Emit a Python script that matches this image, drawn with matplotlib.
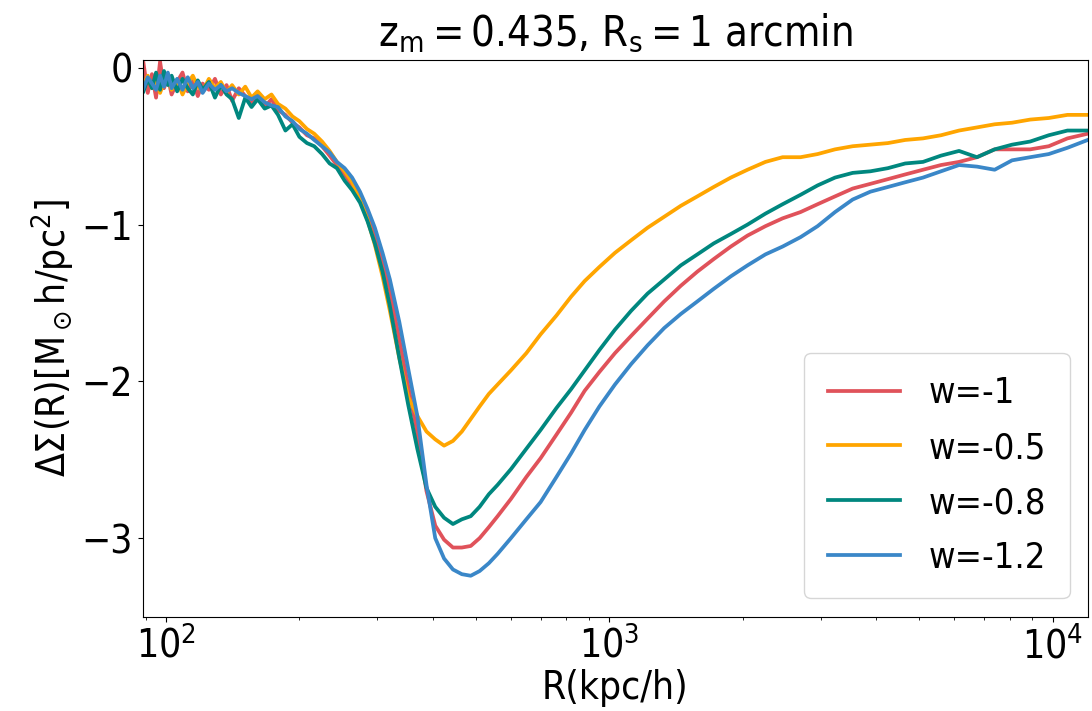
import matplotlib
matplotlib.use("Agg")
import matplotlib.pyplot as plt
from matplotlib import font_manager

# R grid (kpc/h) shared by all four curves
R = [89, 91, 93, 95, 97, 99, 101, 103, 106, 109, 112, 115, 118, 121, 125, 129,
     133, 137, 141, 146, 151, 156, 161, 167, 173, 179, 186, 193, 200, 208, 216,
     225, 234, 243, 253, 263, 274, 285, 296, 308, 320, 336, 352, 369, 387, 405,
     424, 444, 465, 487, 510, 535, 560, 600, 650, 700, 760, 820, 880, 950, 1030,
     1120, 1220, 1330, 1450, 1580, 1720, 1880, 2050, 2250, 2460, 2700, 2950,
     3230, 3540, 3880, 4250, 4650, 5100, 5600, 6150, 6750, 7400, 8100, 8900,
     9800, 10800, 12000]

w_m1 = [0.03, -0.16, -0.04, -0.19, 0.04, -0.13, -0.06, -0.17, -0.09, -0.03, -0.15,
        -0.08, -0.18, -0.10, -0.14, -0.07, -0.17, -0.11, -0.21, -0.13, -0.18, -0.23,
        -0.17, -0.25, -0.20, -0.27, -0.30, -0.35, -0.38, -0.43, -0.45, -0.50, -0.56,
        -0.62, -0.68, -0.75, -0.82, -0.93, -1.06, -1.23, -1.42, -1.73, -2.03, -2.33,
        -2.70, -2.92, -3.01, -3.06, -3.06, -3.05, -3.00, -2.93, -2.86, -2.75, -2.61,
        -2.49, -2.34, -2.20, -2.06, -1.94, -1.82, -1.71, -1.60, -1.49, -1.39, -1.30,
        -1.22, -1.14, -1.07, -1.01, -0.96, -0.92, -0.87, -0.82, -0.77, -0.74, -0.71,
        -0.68, -0.65, -0.62, -0.60, -0.57, -0.52, -0.52, -0.52, -0.50, -0.45, -0.42]

w_m05 = [-0.11, -0.05, -0.13, -0.07, -0.16, -0.09, -0.06, -0.14, -0.08, -0.17, -0.10,
         -0.05, -0.12, -0.15, -0.07, -0.13, -0.09, -0.16, -0.11, -0.17, -0.12, -0.19,
         -0.15, -0.20, -0.17, -0.23, -0.26, -0.31, -0.34, -0.39, -0.42, -0.47, -0.53,
         -0.60, -0.66, -0.73, -0.84, -0.97, -1.13, -1.33, -1.55, -1.85, -2.10, -2.22,
         -2.32, -2.37, -2.41, -2.38, -2.32, -2.24, -2.16, -2.08, -2.02, -1.93, -1.82,
         -1.70, -1.58, -1.46, -1.36, -1.27, -1.18, -1.10, -1.02, -0.95, -0.88, -0.82,
         -0.76, -0.70, -0.65, -0.60, -0.57, -0.57, -0.55, -0.52, -0.50, -0.49, -0.48,
         -0.46, -0.45, -0.43, -0.40, -0.38, -0.36, -0.35, -0.33, -0.32, -0.30, -0.30]

w_m08 = [-0.15, -0.07, -0.13, -0.03, -0.14, -0.02, -0.11, -0.05, -0.15, -0.07, -0.13,
         -0.17, -0.08, -0.14, -0.09, -0.19, -0.11, -0.17, -0.20, -0.32, -0.19, -0.25,
         -0.20, -0.26, -0.24, -0.30, -0.40, -0.36, -0.44, -0.48, -0.50, -0.55, -0.61,
         -0.64, -0.72, -0.78, -0.86, -0.98, -1.12, -1.30, -1.52, -1.85, -2.15, -2.43,
         -2.68, -2.80, -2.87, -2.91, -2.88, -2.86, -2.80, -2.72, -2.66, -2.56, -2.43,
         -2.31, -2.17, -2.05, -1.93, -1.80, -1.67, -1.55, -1.44, -1.35, -1.26, -1.19,
         -1.12, -1.06, -1.00, -0.93, -0.87, -0.81, -0.75, -0.70, -0.67, -0.66, -0.64,
         -0.61, -0.60, -0.56, -0.53, -0.57, -0.52, -0.49, -0.47, -0.43, -0.40, -0.40]

w_m12 = [-0.13, -0.06, -0.10, -0.14, -0.05, -0.12, -0.03, -0.13, -0.07, -0.14, -0.06,
         -0.13, -0.09, -0.16, -0.10, -0.14, -0.11, -0.15, -0.13, -0.16, -0.18, -0.20,
         -0.18, -0.22, -0.24, -0.25, -0.31, -0.34, -0.39, -0.42, -0.46, -0.50, -0.54,
         -0.60, -0.64, -0.70, -0.79, -0.90, -1.02, -1.18, -1.35, -1.62, -1.92, -2.22,
         -2.66, -3.00, -3.13, -3.20, -3.23, -3.24, -3.21, -3.16, -3.10, -3.00, -2.88,
         -2.77, -2.61, -2.46, -2.31, -2.16, -2.02, -1.89, -1.77, -1.66, -1.57, -1.49,
         -1.41, -1.33, -1.26, -1.19, -1.14, -1.08, -1.01, -0.92, -0.84, -0.79, -0.76,
         -0.73, -0.70, -0.66, -0.62, -0.63, -0.65, -0.59, -0.57, -0.55, -0.51, -0.46]

SERIES = [("w=-1", w_m1, "#E0525A"),
          ("w=-0.5", w_m05, "#FFA500"),
          ("w=-0.8", w_m08, "#00877F"),
          ("w=-1.2", w_m12, "#3A87C8")]

plt.rcParams.update({"font.family": "DejaVu Sans", "mathtext.default": "regular"})
try:
    font_manager.findfont(font_manager.FontProperties(family="DejaVu Sans", stretch="condensed"),
                          fallback_to_default=False)
    plt.rcParams["font.stretch"] = "condensed"
except Exception:
    pass

fig = plt.figure(figsize=(10.92, 7.11), dpi=100)
ax = fig.add_axes([0.1308, 0.1329, 0.8653, 0.7827])

for label, ys, color in SERIES:
    ax.plot(R, ys, color=color, lw=2.7, label=label)

ax.set_xscale("log")
ax.set_xlim(88.7, 12000)
ax.set_ylim(-3.5, 0.05)
ax.set_yticks([0, -1, -2, -3])
ax.tick_params(labelsize=28)
ax.set_xlabel("R(kpc/h)", fontsize=28, labelpad=2)
ax.set_ylabel(r"$\Delta\Sigma(R)[M_\odot h/pc^2]$", fontsize=28, labelpad=4)
ax.set_title(r"$z_m = 0.435$, $R_s = 1$ arcmin", fontsize=30, pad=10)
ax.legend(loc="lower right", fontsize=26, borderpad=0.65, labelspacing=0.58,
          borderaxespad=0.5)

fig.savefig("out.png", dpi=100)
